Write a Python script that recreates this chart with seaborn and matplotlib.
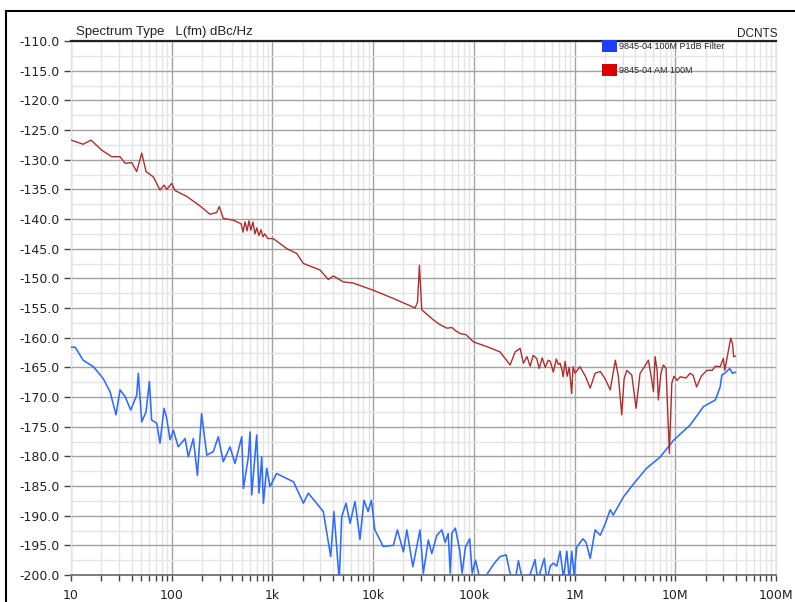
import numpy as np
import pandas as pd
import matplotlib
matplotlib.use("Agg")
import matplotlib.pyplot as plt
from matplotlib.patches import Patch, Rectangle
from matplotlib.ticker import FixedLocator, FixedFormatter, NullFormatter
import seaborn as sns

# ---------------- data ----------------
am_freq = [10, 13.2, 15.8, 20.2, 25.4, 30.7, 34.4, 40.1, 44.9, 50.4, 55.6, 65.6, 76.5, 83.9, 89.5,
           100, 108, 141, 191, 240, 280, 297, 325, 409, 488, 510, 535, 560, 585, 610, 640, 670,
           700, 735, 770, 805, 840, 900, 1020, 1390, 1740, 2030, 2970, 3590, 4030, 5060, 6360,
           7400, 8300, 10000, 15900, 22300, 26100, 27600, 28800, 29900, 30400, 39600, 46000,
           53800, 60700, 65500, 72900, 83700, 98800, 134e3, 182e3, 229e3, 257e3, 288e3, 310e3,
           337e3, 362e3, 388e3, 421e3, 445e3, 477e3, 511e3, 548e3, 574e3, 615e3, 659e3, 690e3,
           718e3, 752e3, 770e3, 806e3, 845e3, 885e3, 937e3, 965e3, 1.01e6, 1.13e6, 1.28e6,
           1.43e6, 1.60e6, 1.80e6, 2.02e6, 2.26e6, 2.54e6, 2.72e6, 2.94e6, 3.1e6, 3.30e6, 3.70e6,
           4.08e6, 4.47e6, 4.9e6, 5.41e6, 5.76e6, 6.07e6, 6.30e6, 6.6e6, 6.79e6, 7.2e6, 7.62e6,
           8.1e6, 8.73e6, 9.23e6, 9.7e6, 10.4e6, 11.2e6, 12.8e6, 14.0e6, 15.0e6, 16.3e6, 18.1e6,
           20.6e6, 23.3e6, 25.0e6, 27.9e6, 30.0e6, 31.0e6, 32.6e6, 35.5e6, 37.0e6, 38.0e6, 39.7e6]
am_dbc = [-126.7, -127.4, -126.7, -128.4, -129.5, -129.5, -130.6, -130.5, -132.0, -128.9, -132.0,
          -132.9, -135.1, -134.3, -135.0, -134.0, -135.2, -136.2, -137.8, -139.2, -138.9, -137.9,
          -139.9, -140.2, -140.8, -142.2, -140.5, -142.0, -140.3, -141.9, -140.5, -142.5, -141.5,
          -142.8, -141.8, -143.0, -142.5, -143.3, -143.3, -145.0, -145.8, -147.5, -148.6, -150.2,
          -149.6, -150.6, -150.8, -151.2, -151.5, -152.0, -153.4, -154.5, -155.0, -154.0, -147.8,
          -153.0, -155.3, -157.0, -157.8, -158.4, -158.3, -158.8, -159.3, -159.5, -160.7, -161.5,
          -162.4, -164.6, -162.4, -161.8, -164.3, -163.2, -164.8, -163.0, -163.5, -165.2, -163.4,
          -165.0, -163.8, -164.0, -165.8, -163.6, -164.5, -164.3, -165.5, -166.6, -164.0, -166.5,
          -165.0, -169.4, -164.9, -166.0, -164.9, -166.5, -168.5, -166.0, -165.7, -167.0, -168.8,
          -163.8, -166.5, -173.0, -167.0, -165.5, -166.3, -171.9, -166.0, -165.0, -163.8, -166.5,
          -169.1, -163.2, -165.5, -170.5, -166.0, -164.6, -165.2, -179.5, -167.7, -166.5, -167.2,
          -166.6, -166.8, -166.0, -166.3, -168.3, -166.5, -165.5, -165.5, -164.8, -164.9, -163.5,
          -165.5, -163.5, -160.1, -161.0, -163.2, -163.1]

p1db_freq = [10, 11, 13.2, 16.7, 20.9, 24.4, 28, 30.7, 34.4, 39.2, 44.9, 46.6, 50.4, 55.6, 60,
             63.2, 71, 76.5, 83.9, 89.2, 96.2, 104, 116, 136, 146, 164, 180, 198, 223, 259, 290,
             325, 379, 425, 496, 515, 577, 600, 623, 698, 736, 783, 813, 877, 946, 1100, 1300,
             1620, 2030, 2270, 2650, 3200, 3790, 4080, 4610, 4870, 5380, 5900, 6600, 7400, 8100,
             8900, 9600, 10400, 12600, 15900, 17400, 20000, 21600, 24800, 29200, 31500, 35300,
             38200, 42900, 48100, 51900, 55600, 58300, 60600, 65500, 72300, 76400, 82500, 91000,
             96200, 104e3, 114e3, 125e3, 137e3, 160e3, 182e3, 209e3, 229e3, 251e3, 277e3, 305e3,
             344e3, 405e3, 431e3, 465e3, 501e3, 531e3, 574e3, 616e3, 666e3, 718e3, 776e3, 838e3,
             888e3, 937e3, 989e3, 1.05e6, 1.21e6, 1.30e6, 1.43e6, 1.60e6, 1.80e6, 2.02e6, 2.26e6,
             2.42e6, 3.07e6, 3.87e6, 5.2e6, 7.1e6, 9.6e6, 14.1e6, 19.1e6, 25.0e6, 27.9e6, 29.0e6,
             31.0e6, 34.7e6, 37.0e6, 39.9e6]
p1db_dbc = [-161.6, -161.6, -163.8, -164.9, -166.9, -169.1, -173.0, -168.8, -169.9, -172.2,
            -169.7, -166.0, -174.2, -172.5, -167.4, -173.9, -174.4, -177.8, -171.9, -173.6,
            -177.2, -175.6, -178.4, -177.0, -180.1, -177.0, -183.2, -172.8, -179.8, -179.2,
            -176.7, -180.9, -178.4, -181.2, -176.7, -185.4, -180.1, -175.9, -186.5, -176.4,
            -186.2, -180.1, -187.9, -182.0, -185.1, -182.9, -183.5, -184.3, -187.9, -186.2,
            -187.6, -189.3, -196.9, -189.3, -201.0, -190.2, -187.9, -191.3, -187.6, -194.0,
            -187.4, -189.3, -187.4, -192.4, -195.2, -195.0, -192.4, -196.1, -192.4, -198.6,
            -192.4, -199.7, -194.1, -196.4, -193.3, -192.4, -194.5, -193.0, -199.7, -192.9,
            -192.1, -195.8, -199.7, -195.3, -193.9, -199.7, -197.5, -200.5, -202.0, -199.7,
            -198.0, -196.9, -196.6, -199.7, -202.0, -197.6, -201.0, -201.0, -197.4, -201.0,
            -199.0, -197.2, -201.0, -198.5, -198.0, -198.5, -196.0, -200.5, -196.0, -201.0,
            -196.0, -200.0, -195.3, -193.9, -194.5, -197.2, -192.4, -193.3, -191.3, -189.0,
            -189.9, -186.8, -184.6, -182.0, -180.1, -177.3, -174.7, -171.6, -170.5, -168.3,
            -166.3, -166.0, -165.2, -166.0, -165.8]

series_names = ["9845-04 100M P1dB Filter", "9845-04 AM 100M"]
x_tick_values = [10, 100, 1e3, 1e4, 1e5, 1e6, 1e7, 1e8]
x_tick_labels = ["10", "100", "1k", "10k", "100k", "1M", "10M", "100M"]
y_tick_values = list(np.arange(-200, -109, 5))

# ---------------- style ----------------
sns.set_theme(style="white")
plt.rcParams["font.family"] = ["DejaVu Sans"]

W, H = 795, 602
fig = plt.figure(figsize=(W / 100, H / 100), dpi=100)
ax = fig.add_axes([71 / W, 1 - 575 / H, (776 - 71) / W, (575 - 41) / H])

df_am = pd.DataFrame({"freq": am_freq, "dbc": am_dbc})
df_p1 = pd.DataFrame({"freq": p1db_freq, "dbc": p1db_dbc})

blue = "#2e6bff"
red = "#ad2e2e"
sns.lineplot(data=df_p1, x="freq", y="dbc", ax=ax, color=blue, lw=1.15,
             estimator=None, sort=False, zorder=3)
sns.lineplot(data=df_am, x="freq", y="dbc", ax=ax, color=red, lw=1.0,
             estimator=None, sort=False, zorder=4)

ax.set_xscale("log")
ax.set_xlim(10, 1e8)
ax.set_ylim(-200, -110)
ax.set_xlabel("")
ax.set_ylabel("")

ax.xaxis.set_major_locator(FixedLocator(x_tick_values))
ax.xaxis.set_major_formatter(FixedFormatter(x_tick_labels))
minor = [m * 10 ** e for e in range(1, 8) for m in range(2, 10)]
ax.xaxis.set_minor_locator(FixedLocator(minor))
ax.xaxis.set_minor_formatter(NullFormatter())
ax.yaxis.set_major_locator(FixedLocator(y_tick_values))
ax.set_yticklabels([f"{v:.1f}" for v in y_tick_values])
ax.yaxis.set_minor_locator(FixedLocator(list(np.arange(-197.5, -110, 5))))

ax.set_axisbelow(True)
ax.grid(which="major", color="#a3a3a3", lw=1.0)
ax.grid(which="minor", color="#e4e4e4", lw=1.0)

for s in ["left", "right"]:
    ax.spines[s].set_color("#e4e4e4")
    ax.spines[s].set_linewidth(1.0)
ax.spines["top"].set_color("#222222")
ax.spines["top"].set_linewidth(1.6)
ax.spines["bottom"].set_color("#666666")
ax.spines["bottom"].set_linewidth(1.2)

ax.tick_params(axis="y", which="major", left=True, length=5, width=1.0, color="#444444",
               pad=3, labelsize=9, labelcolor="#222222")
ax.tick_params(axis="y", which="minor", left=False)
ax.tick_params(axis="x", which="both", bottom=True, length=4, width=1.0, color="#444444",
               pad=6, labelsize=9, labelcolor="#222222")

# title texts
fig.text(76 / W, 1 - 35 / H, "Spectrum Type   L(fm) dBc/Hz", fontsize=9.5,
         family=["Liberation Sans", "DejaVu Sans"], color="#222222", ha="left", va="baseline")
fig.text(777 / W, 1 - 37 / H, "DCNTS", fontsize=8.5,
         family=["Liberation Sans", "DejaVu Sans"], color="#222222", ha="right", va="baseline")

# legend
handles = [Patch(facecolor="#1f3dff", edgecolor="none"), Patch(facecolor="#dd0000", edgecolor="none")]
leg = ax.legend(handles=handles, labels=series_names, loc="upper left",
                bbox_to_anchor=(602 / W, 1 - 40 / H), bbox_transform=fig.transFigure,
                frameon=False, handlelength=1.65, handleheight=1.65,
                handletextpad=0.25, labelspacing=1.3, borderpad=0, borderaxespad=0,
                prop={"family": ["Liberation Sans", "DejaVu Sans"], "size": 6.5})

# figure frame
fig.add_artist(Rectangle((6 / W, -0.05), 1.1, 1 - 11 / H + 0.05, transform=fig.transFigure,
                         fill=False, edgecolor="black", lw=1.5))

fig.savefig("out.png", dpi=100)
